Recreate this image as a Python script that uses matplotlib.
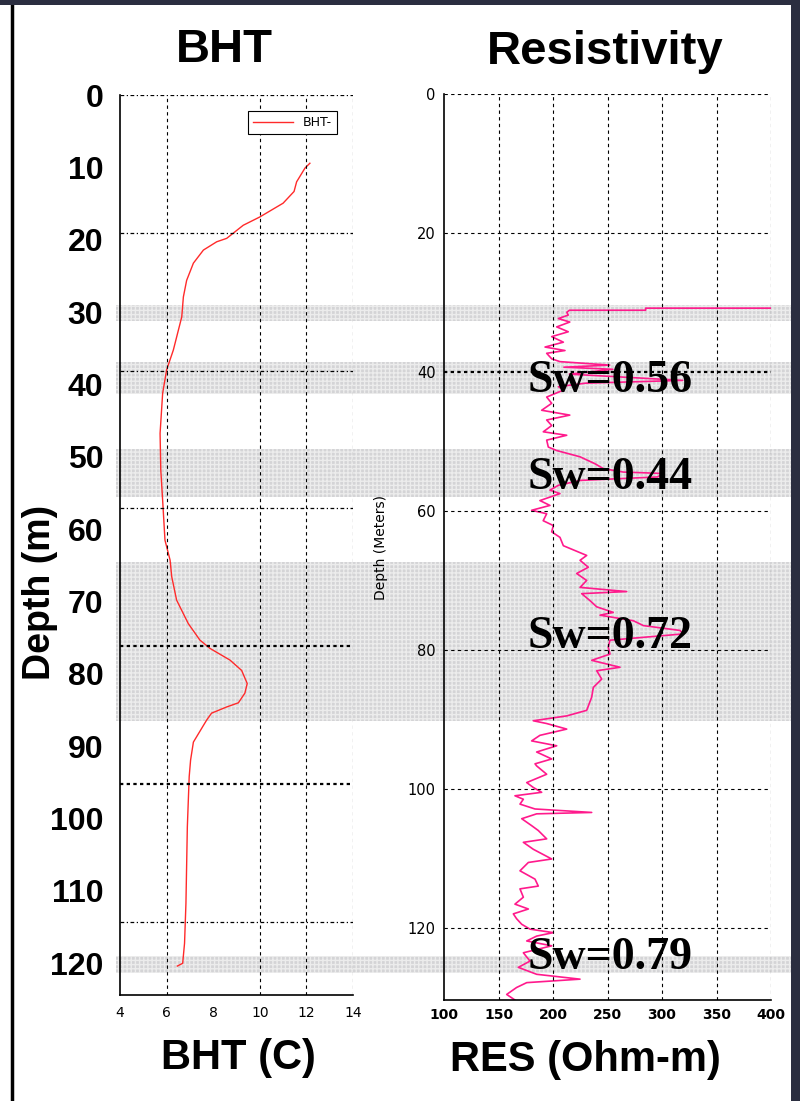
import numpy as np
import matplotlib.pyplot as plt
from matplotlib.patches import Rectangle
from matplotlib.lines import Line2D

# BHT log (temperature C vs depth m, depth in the plot's own axis units)
bht_depth = [9.9, 10.6, 12.6, 14.0, 15.7, 17.7, 18.9, 20.8, 21.3, 22.5, 24.4, 26.9,
             29.3, 32.2, 37.0, 39.9, 43.3, 49.1, 54.4, 58.8, 64.6, 67.5, 69.9, 73.3,
             76.7, 79.1, 80.3, 82.0, 83.5, 85.4, 86.8, 88.2, 88.8, 89.7, 90.7, 93.9,
             96.5, 98.9, 106.2, 117.3, 123.1, 126.0, 126.4]
bht_temp = [12.15, 11.94, 11.58, 11.47, 11.0, 10.0, 9.29, 8.58, 8.15, 7.58, 7.15, 6.86,
            6.72, 6.65, 6.29, 6.0, 5.83, 5.72, 5.75, 5.83, 5.93, 6.15, 6.22, 6.43,
            6.93, 7.43, 7.86, 8.72, 9.22, 9.46, 9.36, 9.08, 8.58, 7.93, 7.72, 7.15,
            7.03, 6.97, 6.89, 6.83, 6.77, 6.69, 6.46]

# Resistivity log (Ohm-m vs depth m)
res_depth = [30.8, 30.8, 31.1, 31.1, 31.4, 31.8, 32.3, 32.8, 33.5, 34.2, 34.9, 35.7,
             36.4, 36.9, 37.3, 38.1, 38.5, 39.0, 39.3, 39.6, 40.3, 41.2, 41.6, 42.1,
             42.6, 43.6, 44.5, 45.5, 46.2, 46.9, 47.7, 48.6, 49.1, 49.8, 50.8, 51.3,
             52.2, 53.2, 53.9, 54.4, 54.6, 55.1, 55.6, 56.3, 57.0, 57.5, 58.5, 59.2,
             59.9, 60.4, 61.4, 62.1, 63.0, 63.8, 65.0, 65.9, 66.4, 67.1, 68.1, 69.0,
             70.0, 71.0, 71.6, 71.9, 72.9, 73.8, 74.6, 75.0, 75.8, 76.5, 77.2, 77.7,
             78.6, 79.6, 80.6, 81.5, 82.5, 83.0, 84.2, 85.4, 86.8, 88.7, 89.5, 90.2,
             90.6, 91.4, 92.3, 93.1, 93.8, 94.7, 95.7, 96.4, 96.7, 97.9, 99.1, 99.8,
             100.5, 101.0, 101.5, 102.2, 102.9, 103.4, 103.6, 104.3, 105.3, 106.0, 107.2, 107.7,
             108.7, 110.1, 110.6, 111.8, 113.0, 114.0, 114.4, 115.6, 116.6, 117.3, 118.0, 118.7,
             119.5, 120.2, 120.7, 121.2, 121.9, 122.6, 123.6, 124.8, 125.7, 126.7, 127.4, 127.9,
             128.6, 129.6, 130.4]
res_val = [400, 285, 285, 215, 212.7, 214, 204.9, 215.4, 203.4, 214, 198.8, 209.5,
           192.7, 211, 194.2, 198.8, 206.4, 252, 210, 255, 215, 319, 230, 205,
           209.5, 194.2, 198.8, 189.6, 215.4, 194.2, 198.8, 191.1, 212.6, 194.2, 195.7, 203.4,
           224.8, 238.5, 246.2, 264.5, 300.9, 296, 225, 205, 197.2, 206.4, 188, 197.2,
           180.4, 194.2, 191, 200.3, 198.8, 206.4, 209.5, 223.2, 230.9, 224.8, 232.4, 221.7,
           230.9, 224.8, 267.6, 226.3, 233.9, 240.1, 255.3, 243.1, 273.7, 282.9, 316.5, 319.4,
           252.3, 250.7, 252.3, 235.5, 261.5, 240.1, 244.7, 237.0, 235.5, 230.9, 212.6, 181.9,
           194.2, 212.6, 188, 180.4, 203.4, 185, 198.8, 183.5, 185, 194.2, 175.9, 181.9,
           189.6, 165.1, 172.8, 169.7, 183.5, 235.5, 185, 171.3, 180.4, 186.5, 194.2, 172.8,
           181.9, 198.8, 177.4, 169.7, 183.5, 186.5, 169.7, 172.8, 165.1, 177.4, 163.6, 166.6,
           171.3, 178.9, 200.3, 185, 175.9, 198.8, 172.8, 178.9, 168.2, 185, 224.8, 175.9,
           166.6, 157.5, 165.1]

# shaded zones (depth top, depth bottom) in resistivity depth units
zone_top = [30.4, 38.6, 51.1, 67.3, 124.0]
zone_bot = [32.7, 43.1, 58.0, 90.3, 126.5]

sw_labels = ["Sw=0.56", "Sw=0.44", "Sw=0.72", "Sw=0.79"]
sw_depth = [41.3, 55.2, 78.1, 124.3]

depth_labels = list(range(0, 121, 10))

W, H = 800, 1101
fig = plt.figure(figsize=(8, 11.01), dpi=100)
fig.patch.set_facecolor('white')

def fx(px):
    return px / W

def fy(py):
    return 1 - py / H

# band overlay
band_ax = fig.add_axes([fx(116), fy(1000), fx(791) - fx(116), fy(94.2) - fy(1000)])
band_ax.set_ylim(130.4, 0)
band_ax.set_xlim(0, 1)
band_ax.axis('off')
band_ax.set_zorder(0)
for t, b in zip(zone_top, zone_bot):
    band_ax.axhspan(t, b, facecolor='#d4d4d6', edgecolor='#ececec', hatch='++++', lw=0)

grid_kw = dict(color='black', linestyle=(0, (3, 3)), linewidth=0.8)

# BHT panel
ax1 = fig.add_axes([fx(120), fy(995), fx(353) - fx(120), fy(95) - fy(995)])
ax1.set_zorder(1)
ax1.patch.set_visible(False)
ax1.plot(bht_temp, bht_depth, color='#ff2a2a', lw=1.0, label='BHT-')
ax1.set_xlim(4, 14)
ax1.set_ylim(130.6, 0)
ax1.set_xticks([4, 6, 8, 10, 12, 14])
ax1.set_xticklabels(['4', '6', '8', '10', '12', '14'], fontsize=10, family='DejaVu Sans')
ax1.set_yticks(range(0, 121, 20))
ax1.set_yticklabels([])
ax1.tick_params(length=0, pad=8)
for x in [6, 10, 12, 14]:
    ax1.axvline(x, **grid_kw)
for y in [0, 20, 40, 60, 120]:
    ax1.axhline(y, color='black', linestyle=(0, (3, 2, 1, 2)), linewidth=0.9)
for y in [80, 100]:
    ax1.axhline(y, color='black', linestyle=(0, (1.5, 1.5)), linewidth=1.6)
ax1.spines['top'].set_visible(False)
ax1.spines['right'].set_visible(False)
ax1.spines['left'].set_linewidth(1.2)
ax1.spines['bottom'].set_linewidth(1.2)
leg = ax1.legend(loc='upper right', fontsize=9, handlelength=3.2, fancybox=False,
                 framealpha=1, edgecolor='black', borderaxespad=1.3)
leg.get_frame().set_linewidth(0.8)

ax1b = ax1.twinx()
ax1b.yaxis.tick_left()
ax1b.set_ylim(124.4, 0)
ax1b.set_yticks(depth_labels)
ax1b.set_yticklabels([str(d) for d in depth_labels], fontsize=23, fontweight='bold',
                     family='Liberation Sans')
ax1b.tick_params(axis='y', length=0, pad=12)
for s in ax1b.spines.values():
    s.set_visible(False)

# Resistivity panel
ax2 = fig.add_axes([fx(444), fy(1000), fx(771) - fx(444), fy(94.2) - fy(1000)])
ax2.set_zorder(1)
ax2.patch.set_visible(False)
ax2.plot(res_val, res_depth, color='#ff1a8c', lw=1.2)
ax2.set_xlim(100, 400)
ax2.set_ylim(130.4, 0)
ax2.set_xticks(range(100, 401, 50))
ax2.set_xticklabels([str(v) for v in range(100, 401, 50)], fontsize=10, fontweight='bold')
ax2.set_yticks(range(0, 121, 20))
ax2.set_yticklabels([str(v) for v in range(0, 121, 20)], fontsize=10.5)
ax2.tick_params(length=0, pad=6)
for x in range(150, 401, 50):
    ax2.axvline(x, **grid_kw)
for y in [0, 20, 60, 80, 100, 120]:
    ax2.axhline(y, **grid_kw)
ax2.axhline(40, color='black', linestyle=(0, (1.5, 1.5)), linewidth=1.6)
ax2.spines['top'].set_visible(False)
ax2.spines['right'].set_visible(False)
ax2.spines['left'].set_linewidth(1.2)
ax2.spines['bottom'].set_linewidth(1.2)
ax2.set_ylabel('Depth (Meters)', fontsize=10, labelpad=14)

for lab, d in zip(sw_labels, sw_depth):
    ax2.text(177, d, lab, fontsize=33, fontweight='bold', family='Liberation Serif',
             ha='left', va='center', color='black', zorder=5, clip_on=False)

# titles and axis captions
fig.text(fx(224), fy(50), 'BHT', fontsize=34, fontweight='bold', family='Liberation Sans',
         ha='center', va='center')
fig.text(fx(605), fy(52), 'Resistivity', fontsize=34, fontweight='bold', family='Liberation Sans',
         ha='center', va='center')
fig.text(fx(238), fy(1058), 'BHT (C)', fontsize=30, fontweight='bold', family='Liberation Sans',
         ha='center', va='center')
fig.text(fx(585), fy(1060), 'RES (Ohm-m)', fontsize=30, fontweight='bold', family='Liberation Sans',
         ha='center', va='center')
fig.text(fx(40), fy(592), 'Depth (m)', fontsize=27, fontweight='bold', family='Liberation Sans',
         ha='center', va='center', rotation=90)

# slide frame
fig.patches.append(Rectangle((0, fy(5)), 1, fy(0) - fy(5), transform=fig.transFigure,
                             facecolor='#2b2e40', edgecolor='none', zorder=10))
fig.patches.append(Rectangle((fx(791), 0), fx(800) - fx(791), 1, transform=fig.transFigure,
                             facecolor='#2b2e40', edgecolor='none', zorder=10))
fig.lines.append(Line2D([fx(11.5), fx(11.5)], [0, fy(5)], transform=fig.transFigure,
                        color='black', lw=2.5))

fig.savefig('out.png', dpi=100)
